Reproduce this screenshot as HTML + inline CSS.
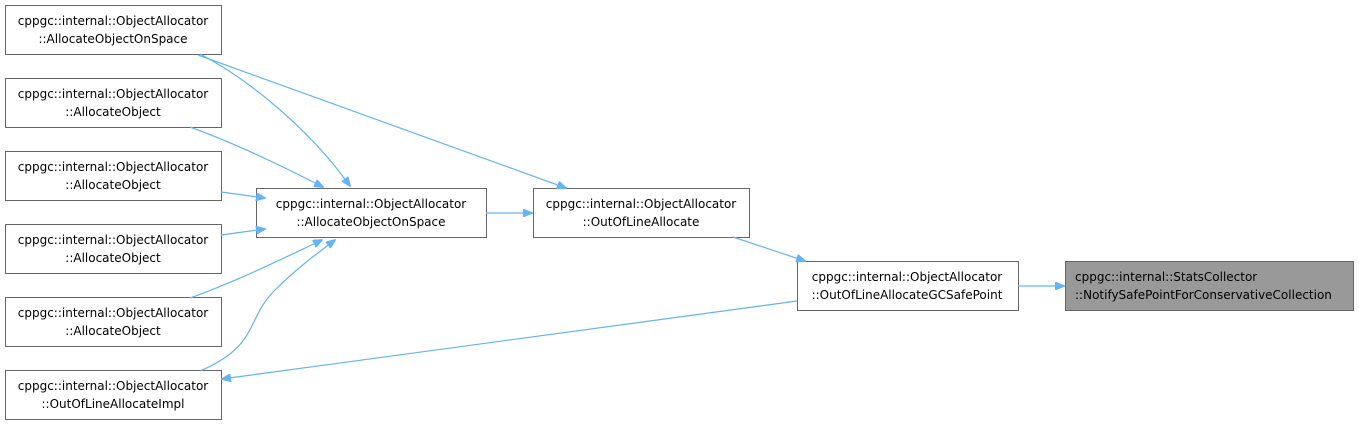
<!DOCTYPE html>
<html><head><meta charset="utf-8"><style>
html,body{margin:0;padding:0;background:#fff;width:1359px;height:426px;overflow:hidden}
svg text{font-family:"DejaVu Sans","Liberation Sans",sans-serif;font-size:12px;fill:#000}
</style></head><body>
<svg width="1359" height="426" viewBox="0 0 1359 426" xmlns="http://www.w3.org/2000/svg">
<defs><marker id="a" markerWidth="10" markerHeight="8" refX="9" refY="4" orient="auto" markerUnits="userSpaceOnUse"><path d="M0,0 L10,4 L0,8 z" fill="#63b3f5" stroke="#63b3f5"/></marker></defs>
<g stroke="#666" stroke-width="1" fill="#fff">
<rect x="5.5" y="5.5" width="216" height="49"/>
<rect x="5.5" y="78.5" width="216" height="49"/>
<rect x="5.5" y="151.5" width="216" height="49"/>
<rect x="5.5" y="224.5" width="216" height="49"/>
<rect x="5.5" y="297.5" width="216" height="49"/>
<rect x="5.5" y="370.5" width="216" height="49"/>
<rect x="256.5" y="188.5" width="230" height="49"/>
<rect x="533.5" y="188.5" width="216" height="49"/>
<rect x="797.5" y="261.5" width="221" height="49"/>
<rect x="1065.5" y="261.5" width="288" height="49" fill="#999"/>
</g>
<g fill="none" stroke="#63b3f5" stroke-width="1.2" marker-end="url(#a)">
<path d="M200,54 C250,80 310,130 350,186"/>
<path d="M198,55 L566,188"/>
<path d="M190,127 C240,145 290,170 323,187"/>
<path d="M221,192 L265,198"/>
<path d="M221,235 L265,229"/>
<path d="M190,298 C240,280 290,255 322,240"/>
<path d="M200,371 C260,345 245,320 275,290 C295,270 315,255 335,240"/>
<path d="M486,213 L532,213"/>
<path d="M733,237 L805,261"/>
<path d="M1018,286 L1064,286"/>
<path d="M797,301 L222,379"/>
</g>
<g text-anchor="middle">
<text x="113" y="25">cppgc::internal::ObjectAllocator</text><text x="113" y="43">::AllocateObjectOnSpace</text>
<text x="113" y="98">cppgc::internal::ObjectAllocator</text><text x="113" y="116">::AllocateObject</text>
<text x="113" y="171">cppgc::internal::ObjectAllocator</text><text x="113" y="189">::AllocateObject</text>
<text x="113" y="244">cppgc::internal::ObjectAllocator</text><text x="113" y="262">::AllocateObject</text>
<text x="113" y="317">cppgc::internal::ObjectAllocator</text><text x="113" y="335">::AllocateObject</text>
<text x="113" y="390">cppgc::internal::ObjectAllocator</text><text x="113" y="408">::OutOfLineAllocateImpl</text>
<text x="371" y="208">cppgc::internal::ObjectAllocator</text><text x="371" y="226">::AllocateObjectOnSpace</text>
<text x="641" y="208">cppgc::internal::ObjectAllocator</text><text x="641" y="226">::OutOfLineAllocate</text>
<text x="907" y="281">cppgc::internal::ObjectAllocator</text><text x="907" y="299">::OutOfLineAllocateGCSafePoint</text>
</g>
<text x="1075" y="281">cppgc::internal::StatsCollector</text>
<text x="1075" y="299">::NotifySafePointForConservativeCollection</text>
</svg>
</body></html>
